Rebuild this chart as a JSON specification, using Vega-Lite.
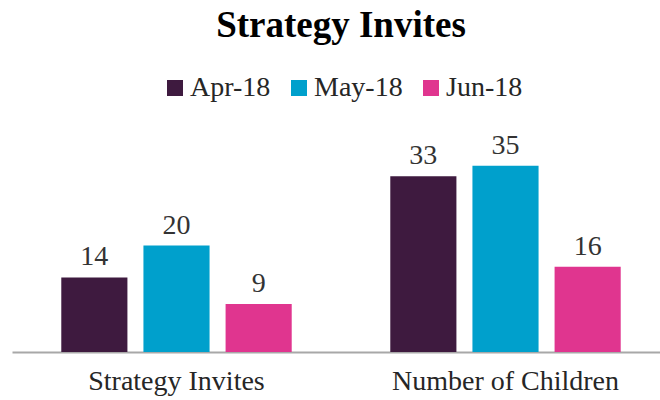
{
  "$schema": "https://vega.github.io/schema/vega-lite/v6.json",
  "autosize": {"type": "none"},
  "padding": {"left": 12, "top": 139, "right": 0, "bottom": 48},
  "width": 658,
  "height": 213,
  "background": "white",
  "title": {
    "text": "Strategy Invites",
    "font": "Liberation Serif",
    "fontSize": 37,
    "fontWeight": "bold",
    "color": "#000000",
    "anchor": "middle",
    "frame": "group",
    "offset": 29
  },
  "data": {
    "values": [
      {"category": "Strategy Invites", "month": "Apr-18", "value": 14},
      {"category": "Strategy Invites", "month": "May-18", "value": 20},
      {"category": "Strategy Invites", "month": "Jun-18", "value": 9},
      {"category": "Number of Children", "month": "Apr-18", "value": 33},
      {"category": "Number of Children", "month": "May-18", "value": 35},
      {"category": "Number of Children", "month": "Jun-18", "value": 16}
    ]
  },
  "encoding": {
    "x": {
      "field": "category",
      "type": "nominal",
      "sort": ["Strategy Invites", "Number of Children"],
      "scale": {"paddingInner": 0, "paddingOuter": 0},
      "axis": {
        "title": null,
        "ticks": false,
        "labelAngle": 0,
        "labelFont": "Liberation Serif",
        "labelFontSize": 28,
        "labelColor": "#262626",
        "labelPadding": 15,
        "labelLimit": 400,
        "domainColor": "#A8A8A8",
        "domainWidth": 2,
        "grid": false
      }
    },
    "xOffset": {
      "field": "month",
      "type": "nominal",
      "sort": ["Apr-18", "May-18", "Jun-18"],
      "scale": {"paddingInner": 0.195, "paddingOuter": 0.6}
    },
    "y": {
      "field": "value",
      "type": "quantitative",
      "scale": {"domain": [0, 40]},
      "axis": null
    }
  },
  "layer": [
    {
      "mark": {"type": "bar"},
      "encoding": {
        "color": {
          "field": "month",
          "type": "nominal",
          "sort": ["Apr-18", "May-18", "Jun-18"],
          "scale": {
            "domain": ["Apr-18", "May-18", "Jun-18"],
            "range": ["#3E1A3F", "#00A0CC", "#E0358F"]
          },
          "legend": {
            "title": null,
            "orient": "none",
            "direction": "horizontal",
            "legendX": 149,
            "legendY": -65,
            "symbolType": "square",
            "symbolSize": 256,
            "symbolStrokeWidth": 0,
            "labelFont": "Liberation Serif",
            "labelFontSize": 28,
            "labelColor": "#262626",
            "labelOffset": 1,
            "columnPadding": 14
          }
        }
      }
    },
    {
      "mark": {
        "type": "text",
        "baseline": "alphabetic",
        "dy": -12,
        "font": "Liberation Serif",
        "fontSize": 28,
        "color": "#333333"
      },
      "encoding": {
        "text": {"field": "value", "type": "quantitative"}
      }
    }
  ],
  "config": {"view": {"stroke": null}}
}
